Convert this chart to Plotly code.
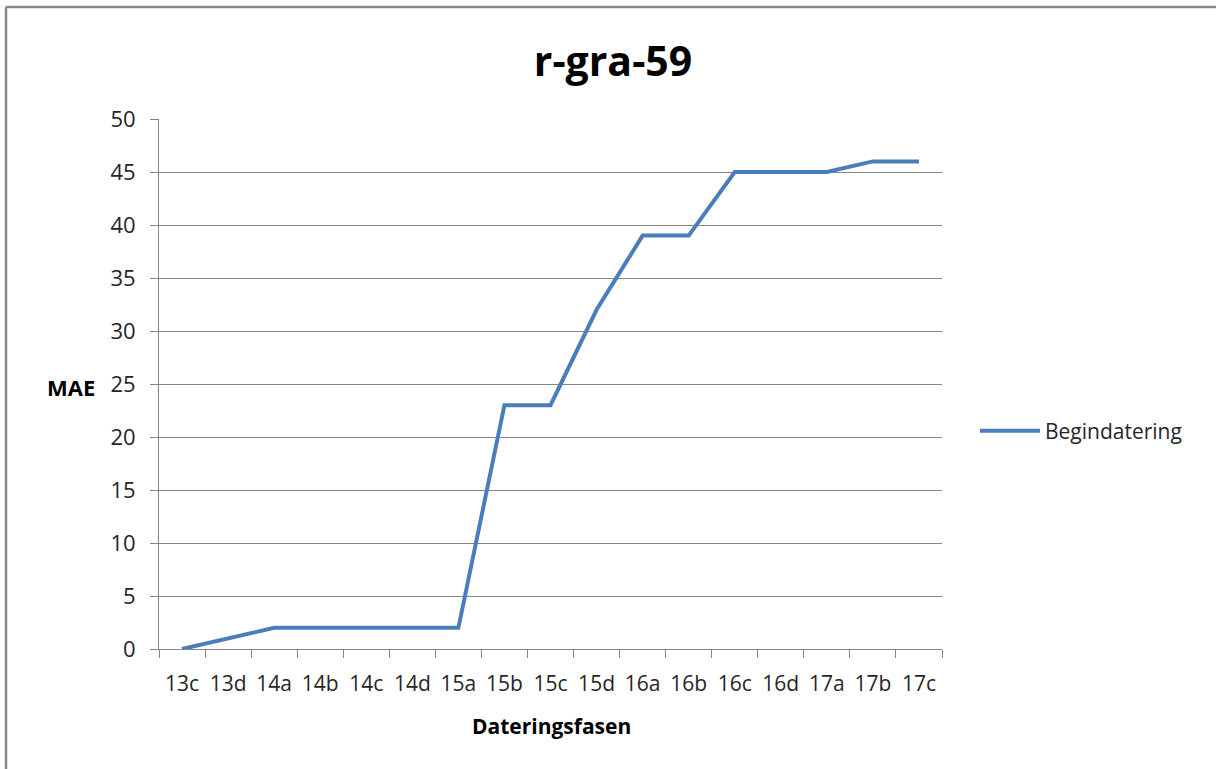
import plotly.graph_objects as go

categories = ["13c", "13d", "14a", "14b", "14c", "14d", "15a", "15b", "15c",
              "15d", "16a", "16b", "16c", "16d", "17a", "17b", "17c"]
begindatering = [0, 1, 2, 2, 2, 2, 2, 23, 23, 32, 39, 39, 45, 45, 45, 46, 46]

W, H = 1216, 769
L, R, T, B = 159, 942, 119, 649
pw, ph = R - L, B - T

FONT = "Open Sans"
TXT = "#262626"
GRID = "#868686"

fig = go.Figure()
fig.add_trace(go.Scatter(
    x=categories, y=begindatering, mode="lines", name="Begindatering",
    line=dict(color="#4A7EBB", width=4),
))

def px_x(x):
    return (x - L) / pw

def px_y(y):
    return (B - y) / ph

fig.update_layout(
    width=W, height=H,
    margin=dict(l=L, r=W - R, t=T, b=H - B),
    paper_bgcolor="white", plot_bgcolor="white",
    font=dict(family=FONT, color=TXT, size=21),
    title=dict(text="<b>r-gra-59</b>", x=px_x(613), xref="paper", xanchor="center",
               y=1 - 62 / H, yanchor="middle",
               font=dict(family=FONT, size=41, color="black")),
    showlegend=True,
    legend=dict(x=px_x(975), y=px_y(431), xanchor="left", yanchor="middle",
                font=dict(family=FONT, size=21, color=TXT),
                itemwidth=60, bgcolor="rgba(0,0,0,0)"),
    xaxis=dict(type="category", range=[-0.5, 16.5], tickson="boundaries",
               showgrid=False, showline=True, linecolor=GRID, linewidth=1,
               ticks="outside", ticklen=8, tickcolor=GRID, ticklabelstandoff=16,
               tickfont=dict(family=FONT, size=21, color=TXT),
               zeroline=False, fixedrange=True),
    yaxis=dict(range=[0, 50], dtick=5, showgrid=True, gridcolor=GRID, gridwidth=1,
               showline=True, linecolor=GRID, linewidth=1,
               ticks="outside", ticklen=8, tickcolor=GRID, ticklabelstandoff=10,
               tickfont=dict(family=FONT, size=22, color=TXT),
               zeroline=False, fixedrange=True),
    annotations=[
        dict(text="<b>MAE</b>", xref="paper", yref="paper", x=px_x(71), y=px_y(387),
             xanchor="center", yanchor="middle", showarrow=False,
             font=dict(family=FONT, size=22, color="black")),
        dict(text="<b>Dateringsfasen</b>", xref="paper", yref="paper", x=px_x(551), y=px_y(726),
             xanchor="center", yanchor="middle", showarrow=False,
             font=dict(family=FONT, size=21, color="black")),
    ],
    shapes=[
        dict(type="line", xref="paper", yref="paper", x0=px_x(6), x1=px_x(1220),
             y0=px_y(7), y1=px_y(7), line=dict(color="#888888", width=2.5)),
        dict(type="line", xref="paper", yref="paper", x0=px_x(6), x1=px_x(6),
             y0=px_y(7), y1=px_y(775), line=dict(color="#888888", width=2.5)),
    ],
)

fig.write_html("out.html", config={"displayModeBar": False},
               post_script="document.body.style.margin='0';")
